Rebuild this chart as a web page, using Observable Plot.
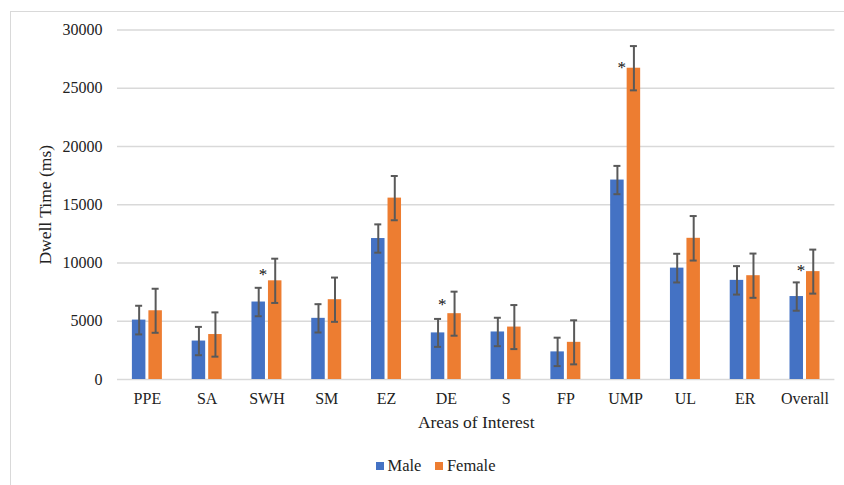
<!DOCTYPE html>
<html>
<head>
<meta charset="utf-8">
<script src="https://cdn.jsdelivr.net/npm/d3@7"></script>
<script src="https://cdn.jsdelivr.net/npm/@observablehq/plot@0.6"></script>
<style>
  html, body { margin: 0; padding: 0; background: #fff; }
  #wrap { position: relative; width: 844px; height: 485px; overflow: hidden; font-family: "Liberation Serif", "Times New Roman", serif; color: #222; }
  #frame { position: absolute; left: 10px; top: 11px; width: 900px; height: 520px; border: 1px solid #d9d9d9; box-sizing: border-box; }
  #chart { position: absolute; left: 0; top: 0; }
  #legend { position: absolute; left: 376px; top: 456px; height: 20px; display: flex; align-items: center; font-size: 16.5px; line-height: 20px; }
  .sw { width: 7.5px; height: 7.5px; margin-right: 4px; display: inline-block; }
  .item { display: flex; align-items: center; margin-right: 14px; }
</style>
</head>
<body>
<div id="wrap">
  <div id="frame"></div>
  <div id="chart"></div>
  <div id="legend"></div>
</div>
<script>
const categories = ["PPE","SA","SWH","SM","EZ","DE","S","FP","UMP","UL","ER","Overall"];
const genders = ["Male","Female"];
const colors = ["#4472C4","#ED7D31"];
const male = [5100,3300,6650,5250,12100,4000,4080,2370,17120,9560,8510,7120];
const maleErr = [1230,1215,1220,1215,1215,1200,1220,1220,1215,1230,1220,1215];
const female = [5900,3860,8470,6850,15570,5650,4500,3190,26720,12120,8910,9260];
const femaleErr = [1890,1900,1900,1900,1900,1890,1890,1890,1900,1910,1900,1890];
const starCats = ["SWH","DE","UMP","Overall"];
const starY = [9270,6700,27100,9640];
const yTicks = [0,5000,10000,15000,20000,25000,30000];

const maleData = categories.map((c,i) => ({cat: c, gender: "Male", value: male[i], lo: male[i]-maleErr[i], hi: male[i]+maleErr[i]}));
const femaleData = categories.map((c,i) => ({cat: c, gender: "Female", value: female[i], lo: female[i]-femaleErr[i], hi: female[i]+femaleErr[i]}));
const stars = starCats.map((c,i) => ({cat: c, y: starY[i]}));

const W = 844, H = 440, ML = 117, MR = 9.6, MT = 29.5, MB = H - 379;
const step = (W - ML - MR) / categories.length;
const barW = 13.5, gap = 3;
const off = (barW + gap) / 2;
const inNear = step/2 - barW - gap/2;
const inFar = step/2 + gap/2;
const capW = 7;
const capIn = (step - capW) / 2;
const errColor = "#595959";

const chart = Plot.plot({
  width: W, height: H,
  marginLeft: ML, marginRight: MR, marginTop: MT, marginBottom: MB,
  style: {fontFamily: '"Liberation Serif", "Times New Roman", serif', fontSize: "16px", color: "#222", background: "transparent", overflow: "visible"},
  x: {domain: categories, padding: 0, round: false, label: null, tickSize: 0, tickPadding: 13},
  y: {domain: [0, 30000], ticks: yTicks, tickSize: 0, tickPadding: 15, label: null, tickFormat: d => String(d)},
  color: {domain: genders, range: colors},
  marks: [
    Plot.ruleY(yTicks, {stroke: "#d9d9d9", strokeWidth: 1.3}),
    Plot.barY(maleData, {x: "cat", y: "value", fill: "gender", insetLeft: inNear, insetRight: inFar}),
    Plot.barY(femaleData, {x: "cat", y: "value", fill: "gender", insetLeft: inFar, insetRight: inNear}),
    Plot.ruleX(maleData, {x: "cat", y1: "lo", y2: "hi", dx: -off, stroke: errColor, strokeWidth: 2}),
    Plot.ruleX(femaleData, {x: "cat", y1: "lo", y2: "hi", dx: off, stroke: errColor, strokeWidth: 2}),
    Plot.tickY(maleData, {x: "cat", y: "hi", dx: -off, insetLeft: capIn, insetRight: capIn, stroke: errColor, strokeWidth: 2}),
    Plot.tickY(maleData, {x: "cat", y: "lo", dx: -off, insetLeft: capIn, insetRight: capIn, stroke: errColor, strokeWidth: 2}),
    Plot.tickY(femaleData, {x: "cat", y: "hi", dx: off, insetLeft: capIn, insetRight: capIn, stroke: errColor, strokeWidth: 2}),
    Plot.tickY(femaleData, {x: "cat", y: "lo", dx: off, insetLeft: capIn, insetRight: capIn, stroke: errColor, strokeWidth: 2}),
    Plot.text(stars, {x: "cat", y: "y", text: d => "*", dx: -4, dy: 3.5, fontSize: 17, fill: "#111"}),
    Plot.text(["Dwell Time (ms)"], {frameAnchor: "left", dx: -72, rotate: -90, textAnchor: "middle", lineAnchor: "middle", fontSize: 17.5, fill: "#222"}),
    Plot.text(["Areas of Interest"], {frameAnchor: "bottom", dy: 43, textAnchor: "middle", lineAnchor: "middle", fontSize: 17.5, fill: "#222"})
  ]
});
document.getElementById("chart").appendChild(chart);

const legend = document.getElementById("legend");
genders.forEach((g, i) => {
  const item = document.createElement("div");
  item.className = "item";
  const sw = document.createElement("span");
  sw.className = "sw";
  sw.style.background = colors[i];
  const t = document.createElement("span");
  t.textContent = g;
  item.appendChild(sw);
  item.appendChild(t);
  legend.appendChild(item);
});
</script>
</body>
</html>
